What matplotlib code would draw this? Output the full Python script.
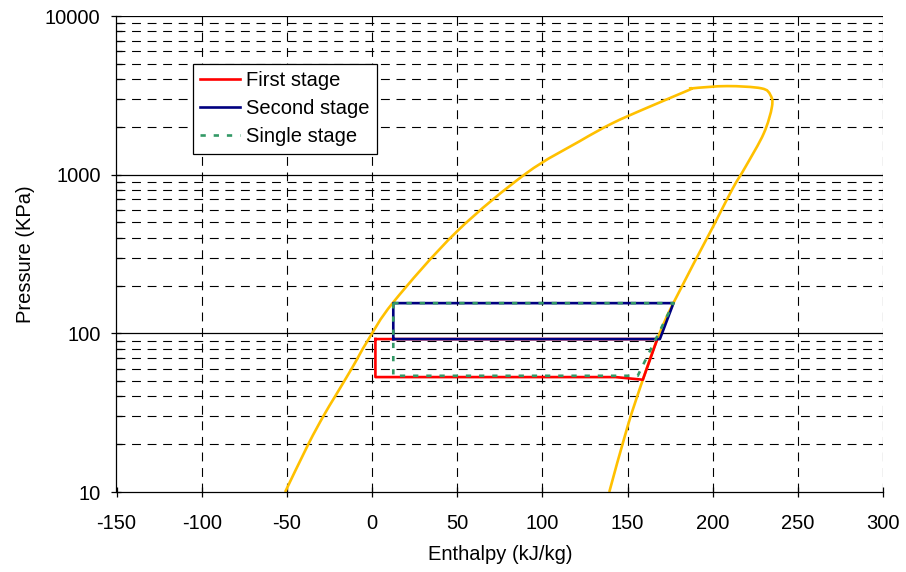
import numpy as np
import matplotlib
matplotlib.use("Agg")
import matplotlib.pyplot as plt
from matplotlib.path import Path
from matplotlib.patches import PathPatch
from matplotlib.ticker import LogLocator, FixedLocator, NullFormatter

plt.rcParams["font.family"] = ["Liberation Sans", "DejaVu Sans"]

# saturation dome (liquid side, then vapour side)
sat_h = [-51, -37.4, -28.6, -21.7, -11.9, -2.5, 12.5, 49.6, 90.5, 121.7, 141, 160.7, 186, 188,
         208.5, 228.6, 233.9, 234.8, 230, 219.3, 211.8, 200.7, 176.9, 167.5, 159, 150, 139.3]
sat_p = [10, 20, 30, 40, 60, 90, 157, 436, 1019, 1620, 2106, 2618, 3414, 3500,
         3616, 3500, 3175, 2679, 1820, 1122, 820, 481, 155, 92, 51, 25.8, 10]

# cycles
first_h = [2, 167.5, 159, 143, 2, 2]
first_p = [92, 92, 51, 53, 53, 92]
second_h = [12.5, 169, 177, 12.5, 12.5]
second_p = [92, 92, 155, 155, 92]
single_h = [12.5, 177, 156, 12.5, 12.5]
single_p = [155, 155, 54, 54, 155]

x_ticks = [-150, -100, -50, 0, 50, 100, 150, 200, 250, 300]
y_ticks = [10, 100, 1000, 10000]

fs = 14.5


def smooth_path(h, p):
    # Excel-style smoothed line: Catmull-Rom bezier through the points in (h, log p)
    pts = np.column_stack([h, np.log10(p)])
    ext = np.vstack([pts[0], pts, pts[-1]])
    verts = [pts[0]]
    codes = [Path.MOVETO]
    for i in range(len(pts) - 1):
        p0, p1, p2, p3 = ext[i], ext[i + 1], ext[i + 2], ext[i + 3]
        verts += [p1 + (p2 - p0) / 6, p2 - (p3 - p1) / 6, p2]
        codes += [Path.CURVE4] * 3
    verts = np.array(verts)
    verts[:, 1] = 10 ** verts[:, 1]
    return Path(verts, codes)


fig = plt.figure(figsize=(9.06, 5.72), dpi=100)
ax = fig.add_axes([116.5 / 906, 1 - 492 / 572, (883 - 116.5) / 906, (492 - 16) / 572])

ax.set_yscale("log")
ax.set_xlim(-150, 300)
ax.set_ylim(10, 10000)

# grid
grid_dash = (0, (8, 6))
for yv in [10 ** d * m for d in range(1, 4) for m in range(2, 10)]:
    ax.axhline(yv, color="k", lw=0.8, ls=grid_dash, zorder=1)
for yv in y_ticks[1:]:
    ax.axhline(yv, color="k", lw=0.9, zorder=1)
for xv in x_ticks[1:]:
    ax.axvline(xv, color="k", lw=0.8, ls=grid_dash, zorder=1)

ax.add_patch(PathPatch(smooth_path(sat_h, sat_p), fill=False, edgecolor="#FFC000", lw=1.9, zorder=2))
ax.plot(first_h, first_p, color="#FF0000", lw=1.9, label="First stage", zorder=3)
ax.plot(second_h, second_p, color="#000080", lw=1.9, label="Second stage", zorder=4)
ax.plot(single_h, single_p, color="#339966", lw=1.9, ls=(0, (2, 3)), label="Single stage", zorder=5)

ax.spines["top"].set_visible(False)
ax.spines["right"].set_visible(False)
for s in ["left", "bottom"]:
    ax.spines[s].set_linewidth(0.9)

ax.xaxis.set_major_locator(FixedLocator(x_ticks))
ax.set_xticklabels([str(v) for v in x_ticks])
ax.yaxis.set_major_locator(FixedLocator(y_ticks))
ax.set_yticklabels([str(v) for v in y_ticks])
ax.yaxis.set_minor_locator(LogLocator(base=10, subs=range(2, 10)))
ax.yaxis.set_minor_formatter(NullFormatter())
ax.tick_params(axis="both", which="major", direction="inout", length=7, width=0.9, labelsize=fs)
ax.tick_params(axis="y", which="major", pad=8)
ax.tick_params(axis="x", which="major", pad=12)
ax.tick_params(axis="y", which="minor", direction="in", length=4, width=0.9)

ax.set_xlabel("Enthalpy (kJ/kg)", fontsize=fs, labelpad=9)
ax.set_ylabel("Pressure (KPa)", fontsize=fs, labelpad=7)

leg = ax.legend(loc="upper left", bbox_to_anchor=(0.0994, 0.8985), borderaxespad=0,
                fontsize=fs, fancybox=False, framealpha=1, edgecolor="k",
                handlelength=2.0, handletextpad=0.3, labelspacing=0.45, borderpad=0.35)
leg.get_frame().set_linewidth(0.9)

fig.savefig("out.png", dpi=100)
